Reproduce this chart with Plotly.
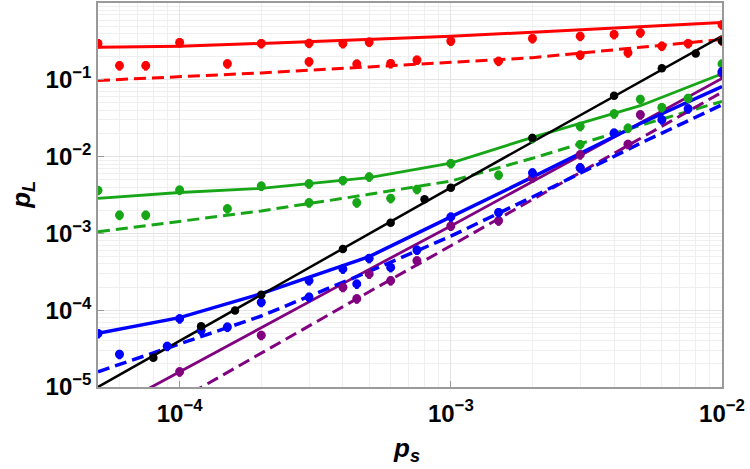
import plotly.graph_objects as go

# ---------------- data ----------------
# theory curves
line_x = [5e-5, 1e-4, 2e-4, 5e-4, 1e-3, 2e-3, 5e-3, 1e-2]
red_solid = [0.265, 0.274, 0.298, 0.336, 0.37, 0.416, 0.49, 0.556]
red_dash = [0.098, 0.110, 0.123, 0.147, 0.168, 0.194, 0.265, 0.335]
green_solid = [2.86e-3, 3.41e-3, 3.85e-3, 5.33e-3, 8.22e-3, 1.78e-2, 4.6e-2, 0.120]
green_dash = [1.05e-3, 1.44e-3, 1.96e-3, 3.23e-3, 4.8e-3, 9.5e-3, 2.55e-2, 0.0523]
blue_solid = [5.0e-5, 8.0e-5, 1.64e-4, 4.98e-4, 1.64e-3, 5.4e-3, 2.7e-2, 0.0817]
blue_dash = [1.58e-5, 3.64e-5, 8.4e-5, 3.2e-4, 9.2e-4, 2.98e-3, 1.49e-2, 0.0473]
purple_solid = [4.2e-6, 1.58e-5, 5.9e-5, 3.4e-4, 1.25e-3, 4.7e-3, 2.7e-2, 0.104]
purple_dash = [1.7e-6, 6.9e-6, 2.78e-5, 1.74e-4, 6.9e-4, 2.78e-3, 1.74e-2, 0.069]
black_x = [5e-5, 1e-4, 1e-3, 1e-2]
black_line = [1.0e-5, 4.0e-5, 3.95e-3, 0.37]

# simulated points
upper_x = [5e-5, 1e-4, 2e-4, 3e-4, 4e-4, 5e-4, 1e-3, 2e-3, 3e-3, 4e-3, 5e-3, 1e-2]
red_up = [0.297, 0.306, 0.297, 0.30, 0.297, 0.31, 0.32, 0.345, 0.37, 0.39, 0.41, 0.52]
green_up = [3.64e-3, 3.67e-3, 4.14e-3, 4.43e-3, 4.90e-3, 5.45e-3, 8.14e-3, 1.73e-2, 2.48e-2, 3.61e-2, 5.58e-2, 0.161]

lower_x = [6e-5, 7.5e-5, 1.5e-4, 3e-4, 4.5e-4, 6e-4, 7.5e-4, 1.5e-3, 3e-3, 4.5e-3, 6e-3, 7.5e-3, 1e-2]
red_low = [0.153, 0.153, 0.162, 0.172, 0.161, 0.163, 0.181, 0.175, 0.21, 0.225, 0.275, 0.297, 0.322]
green_low_x = [6e-5, 7.5e-5, 1.5e-4, 3e-4, 4.5e-4, 6e-4, 7.5e-4, 1.5e-3, 3e-3, 4.5e-3, 6e-3, 7.5e-3]
green_low = [1.73e-3, 1.73e-3, 2.10e-3, 2.51e-3, 2.51e-3, 2.86e-3, 3.75e-3, 5.74e-3, 1.44e-2, 2.35e-2, 4.36e-2, 5.76e-2]

blue_up_x = [5e-5, 1e-4, 2e-4, 3e-4, 4e-4, 5e-4, 1e-3, 2e-3, 4e-3, 1e-2]
blue_up = [4.97e-5, 7.76e-5, 1.27e-4, 2.43e-4, 3.45e-4, 4.73e-4, 1.64e-3, 6.15e-3, 2.03e-2, 0.128]
blue_low_x = [6e-5, 9e-5, 1.2e-4, 1.5e-4, 3e-4, 4.5e-4, 6e-4, 7.5e-4, 1.5e-3, 3e-3, 6e-3, 7.5e-3]
blue_low = [2.67e-5, 3.40e-5, 5.47e-5, 6.04e-5, 1.48e-4, 2.20e-4, 3.61e-4, 6.08e-4, 1.87e-3, 7.14e-3, 3.03e-2, 4.2e-2]

purple_up_x = [1e-4, 2e-4, 4e-4, 5e-4, 1e-3, 2e-3, 3e-3, 5e-3, 1e-2]
purple_up = [1.58e-5, 4.72e-5, 1.99e-4, 2.97e-4, 1.25e-3, 5.3e-3, 1.06e-2, 3.51e-2, 0.121]
purple_low_x = [4.5e-4, 6e-4, 7.5e-4, 1.5e-3, 3e-3, 4.5e-3]
purple_low = [1.41e-4, 2.43e-4, 4.41e-4, 1.46e-3, 7.14e-3, 1.45e-2]

black_pts_x = [8e-5, 1.2e-4, 1.6e-4, 2e-4, 4e-4, 6e-4, 8e-4, 1e-3, 2e-3, 4e-3, 6e-3, 8e-3, 1e-2]
black_pts = [2.4e-5, 6.2e-5, 9.9e-5, 1.59e-4, 6.26e-4, 1.38e-3, 2.78e-3, 3.94e-3, 1.75e-2, 6.18e-2, 0.141, 0.22, 0.319]

x_ticks = [1e-4, 1e-3, 1e-2]
x_tick_text = ["<b>10<sup>−4</sup></b>", "<b>10<sup>−3</sup></b>", "<b>10<sup>−2</sup></b>"]
y_ticks = [1e-5, 1e-4, 1e-3, 1e-2, 1e-1]
y_tick_text = ["<b>10<sup>−5</sup></b>", "<b>10<sup>−4</sup></b>", "<b>10<sup>−3</sup></b>",
               "<b>10<sup>−2</sup></b>", "<b>10<sup>−1</sup></b>"]

RED = "#ff0000"
GREEN = "#17a617"
BLUE = "#0000ff"
PURPLE = "#800080"
BLACK = "#000000"

fig = go.Figure()


def add_line(x, y, color, dash="solid", width=3):
    fig.add_trace(go.Scatter(x=x, y=y, mode="lines", showlegend=False,
                             line=dict(color=color, width=width, dash=dash),
                             hoverinfo="skip"))


def add_pts(x, y, color, size=9, err=True):
    kw = {}
    if err:
        kw["error_y"] = dict(type="percent", value=14, color=color,
                             thickness=3.5, width=0)
    fig.add_trace(go.Scatter(x=x, y=y, mode="markers", showlegend=False,
                             marker=dict(color=color, size=size, symbol="circle",
                                         line=dict(width=0)), **kw))


DASH = "12px,6px"
add_line(line_x, red_solid, RED, width=3)
add_line(line_x, red_dash, RED, DASH, width=3)
add_line(line_x, green_solid, GREEN, width=2.8)
add_line(line_x, green_dash, GREEN, DASH, width=3)
add_line(line_x, purple_solid, PURPLE, width=2.8)
add_line(line_x, purple_dash, PURPLE, DASH, width=3)
add_line(line_x, blue_solid, BLUE, width=3.5)
add_line(line_x, blue_dash, BLUE, DASH, width=3.5)
add_line(black_x, black_line, BLACK, width=2.5)

add_pts(upper_x, red_up, RED)
add_pts(lower_x, red_low, RED)
add_pts(upper_x, green_up, GREEN)
add_pts(green_low_x, green_low, GREEN)
add_pts(purple_up_x, purple_up, PURPLE)
add_pts(purple_low_x, purple_low, PURPLE)
add_pts(blue_up_x, blue_up, BLUE)
add_pts(blue_low_x, blue_low, BLUE)
add_pts(black_pts_x, black_pts, BLACK, size=8.5, err=False)

minor_x = [k * 10.0 ** e for e in (-5, -4, -3) for k in range(2, 10)]
minor_y = [k * 10.0 ** e for e in (-5, -4, -3, -2, -1) for k in range(2, 10)]

AX = "#9a9a9a"
tick_font = dict(family="Liberation Sans, Arial, sans-serif", size=24, color="black")

fig.update_xaxes(type="log", range=[-4.30103, -2], tickvals=x_ticks, ticktext=x_tick_text,
                 showgrid=True, gridcolor="#e4e4e4", gridwidth=1,
                 minor=dict(tickvals=minor_x, showgrid=True, gridcolor="#efefef", ticks=""),
                 showline=True, linecolor=AX, linewidth=1.5, mirror=True,
                 ticks="inside", ticklen=6, tickcolor=AX, tickwidth=1,
                 ticklabelstandoff=4,
                 tickfont=tick_font, zeroline=False)
fig.update_yaxes(type="log", range=[-5, 0], tickvals=y_ticks, ticktext=y_tick_text,
                 showgrid=True, gridcolor="#e4e4e4", gridwidth=1,
                 minor=dict(tickvals=minor_y, showgrid=True, gridcolor="#efefef", ticks=""),
                 showline=True, linecolor=AX, linewidth=1.5, mirror=True,
                 ticks="inside", ticklen=6, tickcolor=AX, tickwidth=1,
                 tickfont=tick_font, zeroline=False)

title_font = dict(family="Liberation Sans, Arial, sans-serif", size=26, color="black")
fig.update_layout(
    width=750, height=469,
    margin=dict(l=98, r=28, t=1, b=82),
    paper_bgcolor="white", plot_bgcolor="white",
    font=dict(family="Liberation Sans, Arial, sans-serif"),
    annotations=[
        dict(text="<b><i>p<sub>L</sub></i></b>", xref="paper", yref="paper",
             x=-0.122, y=0.5, showarrow=False, textangle=-90, font=title_font,
             xanchor="center", yanchor="middle"),
        dict(text="<b><i>p<sub>s</sub></i></b>", xref="paper", yref="paper",
             x=0.494, y=-0.162, showarrow=False, font=title_font,
             xanchor="center", yanchor="middle"),
    ],
)

fig.write_html("out.html")
